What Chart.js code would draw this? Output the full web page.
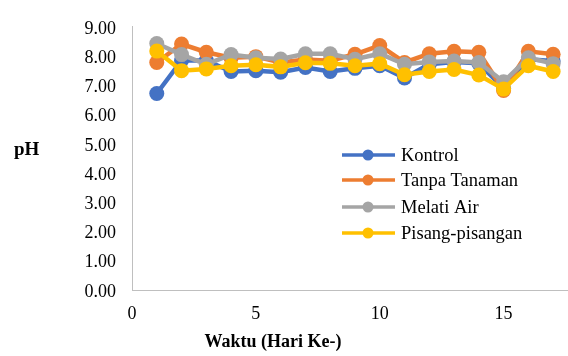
<!DOCTYPE html>
<html><head><meta charset="utf-8">
<script src="https://cdn.jsdelivr.net/npm/chart.js@4"></script>
<style>html,body{margin:0;padding:0;background:#fff}#wrap{width:568px;height:356px;position:relative}</style>
</head><body><div id="wrap"><canvas id="c" width="568" height="356"></canvas></div>
<script>
const days = [1,2,3,4,5,6,7,8,9,10,11,12,13,14,15,16,17];
const seriesNames = ["Kontrol","Tanpa Tanaman","Melati Air","Pisang-pisangan"];
const kontrol = [6.72,7.85,7.85,7.47,7.5,7.45,7.61,7.47,7.58,7.67,7.25,7.72,7.8,7.75,6.9,7.89,7.83];
const tanpaTanaman = [7.78,8.41,8.13,7.94,7.98,7.78,7.88,7.84,8.06,8.36,7.78,8.08,8.16,8.13,6.82,8.16,8.06];
const melatiAir = [8.43,8.05,7.72,8.05,7.94,7.9,8.08,8.08,7.89,8.08,7.72,7.8,7.83,7.78,7.12,7.94,7.74];
const pisangPisangan = [8.17,7.5,7.56,7.67,7.7,7.63,7.77,7.75,7.67,7.74,7.36,7.47,7.54,7.35,6.87,7.67,7.47];
const yTicks = [0,1,2,3,4,5,6,7,8,9];
const xTicks = [0,5,10,15];
const colors = ["#4472C4","#ED7D31","#A5A5A5","#FFC000"];
const FONT = "'Liberation Serif','Times New Roman',serif";

const allSeries = [kontrol, tanpaTanaman, melatiAir, pisangPisangan];
const datasets = allSeries.map((arr,i)=>({
  label: seriesNames[i],
  data: days.map((d,j)=>({x:d,y:arr[j]})),
  showLine: true,
  borderColor: colors[i], backgroundColor: colors[i],
  pointBackgroundColor: colors[i], pointBorderColor: colors[i],
  borderWidth: 4.5, pointRadius: 7.5, pointHoverRadius: 7.5, pointBorderWidth: 0,
  tension: 0, clip: false, order: 3 - i
}));

const overlay = {
  id: 'overlay',
  afterDraw(chart){
    const ctx = chart.ctx;
    ctx.save();
    ctx.fillStyle = '#000';
    ctx.font = "bold 19px " + FONT;
    ctx.textAlign = 'left'; ctx.textBaseline = 'middle';
    ctx.fillText('pH', 14, 150);
    ctx.font = "bold 18px " + FONT;
    ctx.textAlign = 'center';
    ctx.fillText('Waktu (Hari Ke-)', 273, 342);
    // legend
    const ys = [155,180,207,233];
    seriesNames.forEach((n,i)=>{
      const y = ys[i];
      ctx.strokeStyle = colors[i]; ctx.lineWidth = 3.5;
      ctx.beginPath(); ctx.moveTo(342,y); ctx.lineTo(395,y); ctx.stroke();
      ctx.fillStyle = colors[i];
      ctx.beginPath(); ctx.arc(368,y,5.5,0,Math.PI*2); ctx.fill();
      ctx.fillStyle = '#000';
      ctx.font = "18.5px " + FONT; ctx.textAlign='left';
      ctx.fillText(n, 401, y+1);
    });
    ctx.restore();
  }
};

new Chart(document.getElementById('c'), {
  type: 'scatter',
  data: { datasets },
  options: {
    responsive: false, animation: false,
    layout: { autoPadding: false, padding: { top: 21, right: 0, left: 0, bottom: 0 } },
    plugins: { legend: {display:false}, tooltip: {enabled:false} },
    scales: {
      x: {
        type: 'linear', min: 0, max: 17.6,
        grid: { display: false, drawTicks: false },
        border: { color: '#BFBFBF', width: 1 },
        afterBuildTicks(s){ s.ticks = xTicks.map(v=>({value:v})); },
        afterFit(s){ s.height = 66; },
        ticks: { color:'#000', font:{family:FONT, size:18}, padding: 13, maxRotation:0, autoSkip:false }
      },
      y: {
        min: 0, max: 9,
        grid: { display: false, drawTicks: false },
        border: { color: '#BFBFBF', width: 1 },
        afterBuildTicks(s){ s.ticks = yTicks.map(v=>({value:v})); },
        afterFit(s){ s.width = 132; },
        ticks: { color:'#000', font:{family:FONT, size:18}, padding: 16, labelOffset: 2,
          callback: v => Number(v).toFixed(2) }
      }
    }
  },
  plugins: [overlay]
});
</script></body></html>
